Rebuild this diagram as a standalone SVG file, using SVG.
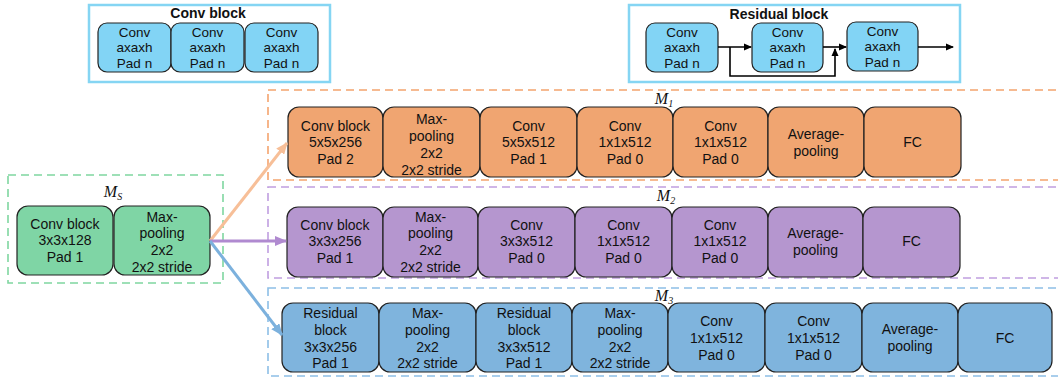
<svg xmlns="http://www.w3.org/2000/svg" width="1058" height="379" viewBox="0 0 1058 379">
<style>
text{font-family:"Liberation Sans",Arial,sans-serif;font-size:14px;fill:#111;text-anchor:middle}
.lg{font-size:13.5px}
.t{font-weight:bold;font-size:14px}
.m{font-family:"Liberation Serif","DejaVu Serif",serif;font-style:italic;font-size:16px}
.sub{font-size:10px}
.n{stroke:#222;stroke-width:1.2}
.cy{fill:#82d4f5}
.gr{fill:#7fd5a5}
.or{fill:#f0a571}
.pu{fill:#b596cf}
.bl{fill:#7fb4dd}
.frame{fill:none;stroke:#85d5f3;stroke-width:2.5}
.dash{fill:none;stroke-width:1.6;stroke-dasharray:8,5}
.k{fill:none;stroke:#000;stroke-width:1.6}
</style>
<defs>
<marker id="ak" markerWidth="8" markerHeight="8" refX="7" refY="4" orient="auto" markerUnits="userSpaceOnUse"><path d="M0,0.5 L8,4 L0,7.5 Z" fill="#000"/></marker>
<marker id="ao" markerWidth="12" markerHeight="10" refX="11" refY="5" orient="auto" markerUnits="userSpaceOnUse"><path d="M0,0 L12,5 L0,10 Z" fill="#f7bf98"/></marker>
<marker id="ap" markerWidth="12" markerHeight="10" refX="11" refY="5" orient="auto" markerUnits="userSpaceOnUse"><path d="M0,0 L12,5 L0,10 Z" fill="#b08ad0"/></marker>
<marker id="ab" markerWidth="12" markerHeight="10" refX="11" refY="5" orient="auto" markerUnits="userSpaceOnUse"><path d="M0,0 L12,5 L0,10 Z" fill="#7cb1dd"/></marker>
</defs>
<rect width="1058" height="379" fill="#fff"/>

<!-- legend: conv block -->
<g id="conv-block-legend">
<rect class="frame" x="89" y="5" width="241" height="77"/>
<text class="t" x="208" y="18">Conv block</text>
</g>
<g id="cb1" class="lg"><rect class="n cy" x="98" y="23" width="73" height="49" rx="9"/><text class="lg"><tspan x="134.5" y="37">Conv</tspan><tspan x="134.5" y="52">axaxh</tspan><tspan x="134.5" y="68">Pad n</tspan></text></g>
<g id="cb2"><rect class="n cy" x="171" y="23" width="73" height="49" rx="9"/><text class="lg"><tspan x="207.5" y="37">Conv</tspan><tspan x="207.5" y="52">axaxh</tspan><tspan x="207.5" y="68">Pad n</tspan></text></g>
<g id="cb3"><rect class="n cy" x="245" y="23" width="73" height="49" rx="9"/><text class="lg"><tspan x="281.5" y="37">Conv</tspan><tspan x="281.5" y="52">axaxh</tspan><tspan x="281.5" y="68">Pad n</tspan></text></g>

<!-- legend: residual block -->
<g id="residual-block-legend">
<rect class="frame" x="629" y="5" width="331" height="77"/>
<text class="t" x="779" y="19">Residual block</text>
</g>
<g id="rb1"><rect class="n cy" x="646" y="23" width="72" height="49" rx="9"/><text class="lg"><tspan x="682" y="37">Conv</tspan><tspan x="682" y="52">axaxh</tspan><tspan x="682" y="68">Pad n</tspan></text></g>
<g id="rb2"><rect class="n cy" x="752" y="23" width="71" height="49" rx="9"/><text class="lg"><tspan x="787.5" y="37">Conv</tspan><tspan x="787.5" y="52">axaxh</tspan><tspan x="787.5" y="68">Pad n</tspan></text></g>
<g id="rb3"><rect class="n cy" x="847" y="22" width="71" height="49" rx="9"/><text class="lg"><tspan x="882.5" y="36">Conv</tspan><tspan x="882.5" y="51">axaxh</tspan><tspan x="882.5" y="67">Pad n</tspan></text></g>

<!-- frames -->
<g id="MS">
<rect class="dash" x="8" y="175" width="215" height="108" stroke="#7fd6a0"/>
<text class="m" x="113" y="197">M<tspan class="sub" dy="3">S</tspan></text>
</g>
<g id="M1">
<rect class="dash" x="268" y="90" width="800" height="90" stroke="#f4a46e"/>
<text class="m" x="664" y="104">M<tspan class="sub" dy="3">1</tspan></text>
</g>
<g id="M2">
<rect class="dash" x="268" y="187" width="800" height="91" stroke="#c09ee0"/>
<text class="m" x="666" y="201">M<tspan class="sub" dy="3">2</tspan></text>
</g>
<g id="M3">
<rect class="dash" x="268" y="288" width="800" height="88" stroke="#8dbfe6"/>
<text class="m" x="664" y="301">M<tspan class="sub" dy="3">3</tspan></text>
</g>

<!-- MS nodes -->
<g id="ms1"><rect class="n gr" x="17" y="206" width="96" height="69" rx="11"/><text><tspan x="65" y="229">Conv block</tspan><tspan x="65" y="245">3x3x128</tspan><tspan x="65" y="262">Pad 1</tspan></text></g>
<g id="ms2"><rect class="n gr" x="114" y="206" width="96" height="69" rx="11"/><text><tspan x="162" y="222">Max-</tspan><tspan x="162" y="238">pooling</tspan><tspan x="162" y="255">2x2</tspan><tspan x="162" y="272">2x2 stride</tspan></text></g>

<!-- M1 nodes -->
<g id="m1a"><rect class="n or" x="288" y="107" width="95" height="70" rx="11"/><text><tspan x="335.5" y="131">Conv block</tspan><tspan x="335.5" y="147">5x5x256</tspan><tspan x="335.5" y="164">Pad 2</tspan></text></g>
<g id="m1b"><rect class="n or" x="383" y="107" width="97" height="70" rx="11"/><text><tspan x="431.5" y="124">Max-</tspan><tspan x="431.5" y="141">pooling</tspan><tspan x="431.5" y="158">2x2</tspan><tspan x="431.5" y="175">2x2 stride</tspan></text></g>
<g id="m1c"><rect class="n or" x="480" y="107" width="97" height="70" rx="11"/><text><tspan x="528.5" y="131">Conv</tspan><tspan x="528.5" y="147">5x5x512</tspan><tspan x="528.5" y="164">Pad 1</tspan></text></g>
<g id="m1d"><rect class="n or" x="577" y="107" width="96" height="70" rx="11"/><text><tspan x="625" y="131">Conv</tspan><tspan x="625" y="147">1x1x512</tspan><tspan x="625" y="164">Pad 0</tspan></text></g>
<g id="m1e"><rect class="n or" x="673" y="107" width="95" height="70" rx="11"/><text><tspan x="720.5" y="131">Conv</tspan><tspan x="720.5" y="147">1x1x512</tspan><tspan x="720.5" y="164">Pad 0</tspan></text></g>
<g id="m1f"><rect class="n or" x="768" y="107" width="96" height="70" rx="11"/><text><tspan x="816" y="139">Average-</tspan><tspan x="816" y="156">pooling</tspan></text></g>
<g id="m1g"><rect class="n or" x="864" y="107" width="97" height="70" rx="11"/><text><tspan x="912.5" y="147">FC</tspan></text></g>

<!-- M2 nodes -->
<g id="m2a"><rect class="n pu" x="287" y="207" width="96" height="70" rx="11"/><text><tspan x="335" y="230">Conv block</tspan><tspan x="335" y="246">3x3x256</tspan><tspan x="335" y="263">Pad 1</tspan></text></g>
<g id="m2b"><rect class="n pu" x="383" y="207" width="95" height="70" rx="11"/><text><tspan x="430.5" y="222">Max-</tspan><tspan x="430.5" y="238">pooling</tspan><tspan x="430.5" y="255">2x2</tspan><tspan x="430.5" y="272">2x2 stride</tspan></text></g>
<g id="m2c"><rect class="n pu" x="478" y="207" width="97" height="70" rx="11"/><text><tspan x="526.5" y="230">Conv</tspan><tspan x="526.5" y="246">3x3x512</tspan><tspan x="526.5" y="263">Pad 0</tspan></text></g>
<g id="m2d"><rect class="n pu" x="575" y="207" width="97" height="70" rx="11"/><text><tspan x="623.5" y="230">Conv</tspan><tspan x="623.5" y="246">1x1x512</tspan><tspan x="623.5" y="263">Pad 0</tspan></text></g>
<g id="m2e"><rect class="n pu" x="672" y="207" width="96" height="70" rx="11"/><text><tspan x="720" y="230">Conv</tspan><tspan x="720" y="246">1x1x512</tspan><tspan x="720" y="263">Pad 0</tspan></text></g>
<g id="m2f"><rect class="n pu" x="768" y="207" width="95" height="70" rx="11"/><text><tspan x="815.5" y="238">Average-</tspan><tspan x="815.5" y="255">pooling</tspan></text></g>
<g id="m2g"><rect class="n pu" x="863" y="207" width="97" height="70" rx="11"/><text><tspan x="911.5" y="246">FC</tspan></text></g>

<!-- M3 nodes -->
<g id="m3a"><rect class="n bl" x="282" y="303" width="97" height="69" rx="11"/><text><tspan x="330.5" y="318">Residual</tspan><tspan x="330.5" y="335">block</tspan><tspan x="330.5" y="352">3x3x256</tspan><tspan x="330.5" y="368">Pad 1</tspan></text></g>
<g id="m3b"><rect class="n bl" x="379" y="303" width="97" height="69" rx="11"/><text><tspan x="427.5" y="318">Max-</tspan><tspan x="427.5" y="335">pooling</tspan><tspan x="427.5" y="352">2x2</tspan><tspan x="427.5" y="368">2x2 stride</tspan></text></g>
<g id="m3c"><rect class="n bl" x="476" y="303" width="96" height="69" rx="11"/><text><tspan x="524" y="318">Residual</tspan><tspan x="524" y="335">block</tspan><tspan x="524" y="352">3x3x512</tspan><tspan x="524" y="368">Pad 1</tspan></text></g>
<g id="m3d"><rect class="n bl" x="572" y="303" width="96" height="69" rx="11"/><text><tspan x="620" y="318">Max-</tspan><tspan x="620" y="335">pooling</tspan><tspan x="620" y="352">2x2</tspan><tspan x="620" y="368">2x2 stride</tspan></text></g>
<g id="m3e"><rect class="n bl" x="668" y="303" width="97" height="69" rx="11"/><text><tspan x="716.5" y="326">Conv</tspan><tspan x="716.5" y="343">1x1x512</tspan><tspan x="716.5" y="360">Pad 0</tspan></text></g>
<g id="m3f"><rect class="n bl" x="765" y="303" width="97" height="69" rx="11"/><text><tspan x="813.5" y="326">Conv</tspan><tspan x="813.5" y="343">1x1x512</tspan><tspan x="813.5" y="360">Pad 0</tspan></text></g>
<g id="m3g"><rect class="n bl" x="862" y="303" width="96" height="69" rx="11"/><text><tspan x="910" y="334">Average-</tspan><tspan x="910" y="351">pooling</tspan></text></g>
<g id="m3h"><rect class="n bl" x="958" y="303" width="94" height="69" rx="11"/><text><tspan x="1005" y="343">FC</tspan></text></g>

<!-- connectors -->
<g id="connectors">
<line class="k" x1="718" y1="47" x2="751" y2="47" marker-end="url(#ak)"/>
<polyline class="k" points="730,47 730,76 835,76 835,49" marker-end="url(#ak)"/>
<line class="k" x1="823" y1="47" x2="846" y2="47" marker-end="url(#ak)"/>
<line class="k" x1="918" y1="47" x2="953" y2="47" marker-end="url(#ak)"/>
<line x1="210" y1="241" x2="287" y2="143" stroke="#f7bf98" stroke-width="3" marker-end="url(#ao)"/>
<line x1="210" y1="241" x2="286" y2="241" stroke="#b08ad0" stroke-width="3" marker-end="url(#ap)"/>
<line x1="210" y1="241" x2="282" y2="335" stroke="#7cb1dd" stroke-width="3" marker-end="url(#ab)"/>
</g>
</svg>
